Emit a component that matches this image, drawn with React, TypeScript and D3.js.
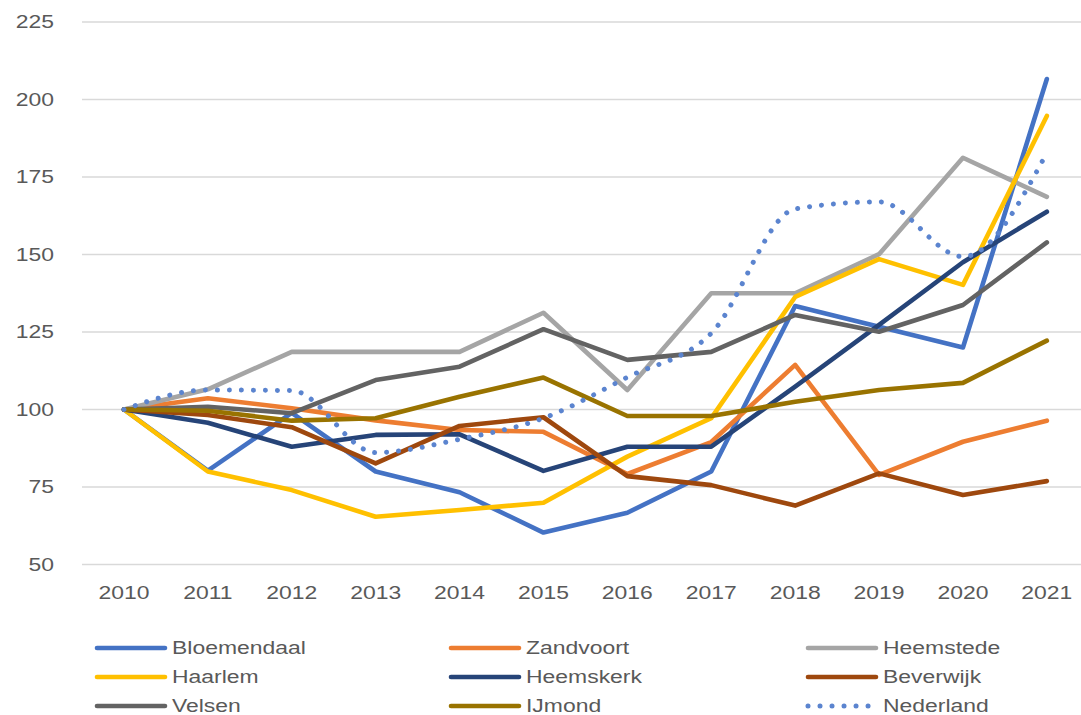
import React, { useEffect, useRef } from 'react';
import * as d3 from 'd3';

const years = ['2010', '2011', '2012', '2013', '2014', '2015', '2016', '2017', '2018', '2019', '2020', '2021'];
const yTicks = [50, 75, 100, 125, 150, 175, 200, 225];

const bloemendaal = [100, 80.3, 98.9, 80, 73.3, 60.3, 66.7, 80, 133.4, 126.7, 120, 206.6];
const zandvoort = [100, 103.6, 100.4, 96.5, 93.4, 92.8, 79.2, 89.5, 114.4, 78.9, 89.6, 96.4];
const heemstede = [100, 106.5, 118.6, 118.6, 118.6, 131.2, 106.3, 137.5, 137.5, 150.1, 181.2, 168.6];
const haarlem = [100, 80, 74, 65.4, 67.6, 69.9, 84.8, 97.2, 136.3, 148.5, 140.2, 194.7];
const heemskerk = [100, 95.7, 88, 91.8, 92, 80.2, 88, 88, 107.4, 127.3, 147.5, 163.8];
const beverwijk = [100, 98.2, 94.3, 82.6, 94.7, 97.5, 78.5, 75.6, 69, 79.4, 72.4, 76.9];
const velsen = [100, 100.9, 98.8, 109.5, 113.8, 125.9, 116, 118.6, 130.5, 125.1, 133.7, 153.9];
const ijmond = [100, 99.6, 96.4, 97.2, 104.1, 110.3, 97.9, 97.9, 102.5, 106.3, 108.6, 122.2];
const nederland = [100, 106.3, 106.1, 86.1, 90.4, 97.2, 110.4, 124.6, 164.7, 167, 149.3, 182.8];

const seriesNames = ['Bloemendaal', 'Zandvoort', 'Heemstede', 'Haarlem', 'Heemskerk', 'Beverwijk', 'Velsen', 'IJmond', 'Nederland'];
const seriesValues = [bloemendaal, zandvoort, heemstede, haarlem, heemskerk, beverwijk, velsen, ijmond, nederland];
const seriesColors = ['#4472C4', '#ED7D31', '#A5A5A5', '#FFC000', '#264478', '#9E480E', '#636363', '#997300', '#5B84CF'];

const W = 1081;
const H = 715;
const FONT = '"Liberation Sans", Arial, sans-serif';
const SX = 1.24; // the reference text is horizontally stretched

const App = () => {
  const svgRef = useRef(null);

  useEffect(() => {
    const svg = d3.select(svgRef.current);
    svg.selectAll('*').remove();

    const x = d3.scaleBand().domain(years).range([82, 82 + 12 * 83.9]);
    const cx = (yr) => x(yr) + x.bandwidth() / 2;
    const y = d3.scaleLinear().domain([50, 225]).range([564.5, 22]);

    // gridlines
    svg.append('g')
      .selectAll('line')
      .data(yTicks)
      .join('line')
      .attr('x1', 82)
      .attr('x2', W)
      .attr('y1', (d) => y(d))
      .attr('y2', (d) => y(d))
      .attr('stroke', '#d9d9d9')
      .attr('stroke-width', 1.3);

    // y tick labels
    svg.append('g')
      .selectAll('text')
      .data(yTicks)
      .join('text')
      .attr('transform', (d) => `translate(54,${y(d)}) scale(${SX},1)`)
      .attr('text-anchor', 'end')
      .attr('dy', '0.35em')
      .style('font-family', FONT)
      .style('font-size', '18.5px')
      .style('fill', '#595959')
      .text((d) => d);

    // x tick labels
    svg.append('g')
      .selectAll('text')
      .data(years)
      .join('text')
      .attr('transform', (d) => `translate(${cx(d)},${593}) scale(${SX},1)`)
      .attr('text-anchor', 'middle')
      .attr('dy', '0.35em')
      .style('font-family', FONT)
      .style('font-size', '18.5px')
      .style('fill', '#595959')
      .text((d) => d);

    // lines
    const straight = d3.line().x((d, i) => cx(years[i])).y((d) => y(d));
    const smooth = d3.line().x((d, i) => cx(years[i])).y((d) => y(d)).curve(d3.curveMonotoneX);

    seriesValues.forEach((vals, k) => {
      const dotted = seriesNames[k] === 'Nederland';
      svg.append('path')
        .datum(vals)
        .attr('d', dotted ? smooth : straight)
        .attr('fill', 'none')
        .attr('stroke', seriesColors[k])
        .attr('stroke-width', dotted ? 5 : 4.6)
        .attr('stroke-linejoin', 'round')
        .attr('stroke-linecap', 'round')
        .attr('stroke-dasharray', dotted ? '0.01 12' : null);
    });

    // legend
    const colX = [95, 449, 806];
    const rowY = [648, 677, 706];
    seriesNames.forEach((name, k) => {
      const lx = colX[k % 3];
      const ly = rowY[Math.floor(k / 3)];
      const dotted = name === 'Nederland';
      svg.append('line')
        .attr('x1', lx + 2)
        .attr('x2', lx + 70)
        .attr('y1', ly)
        .attr('y2', ly)
        .attr('stroke', seriesColors[k])
        .attr('stroke-width', dotted ? 5 : 4.6)
        .attr('stroke-linecap', 'round')
        .attr('stroke-dasharray', dotted ? '0.01 12' : null);
      svg.append('text')
        .attr('transform', `translate(${lx + 77},${ly}) scale(${SX},1)`)
        .attr('dy', '0.35em')
        .style('font-family', FONT)
        .style('font-size', '18.5px')
        .style('fill', '#595959')
        .text(name);
    });
  }, []);

  return (
    <svg
      ref={svgRef}
      width={W}
      height={H}
      style={{ position: 'absolute', left: 0, top: 0, background: '#fff' }}
    />
  );
};

export default App;
